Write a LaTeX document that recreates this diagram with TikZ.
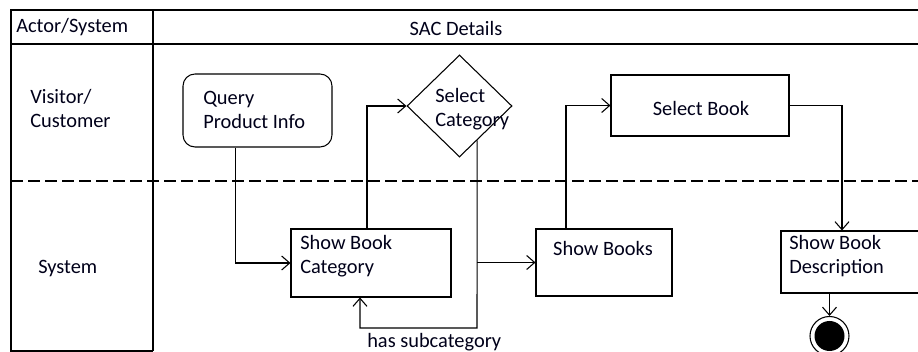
\documentclass[tikz,border=0pt]{standalone}
\usepackage{fontspec}
\setmainfont{Carlito}
\usetikzlibrary{arrows.meta,shapes.geometric,calc}
\begin{document}
\begin{tikzpicture}[x=0.75pt,y=-0.75pt,
  font=\fontsize{15.3}{18}\selectfont,
  ln/.style={line width=0.8pt, draw=black},
  box/.style={ln, rectangle, inner sep=0pt},
  txt/.style={inner sep=0pt, align=left, text=black!90!blue},
  arr/.style={ln, -{Straight Barb[length=6pt,width=10.5pt]}},
]
\useasboundingbox (0,0) rectangle (918,352);
% frame
\draw[ln] (918,10) -- (11,10) -- (11,351) -- (153,351);
\draw[ln] (11,44) -- (918,44);
\draw[ln] (153,10) -- (153,351);
\draw[line width=0.8pt, dash pattern=on 9pt off 3.75pt] (11,181) -- (918,181);
% header / lane texts
\node[txt, anchor=west] (hactor) at (16,27.5) {Actor/System};
\node[txt] (hsac) at (456,28.5) {SAC Details};
\node[txt, anchor=west] (lvis) at (30,108) {Visitor/\\Customer};
\node[txt, anchor=west] (lsys) at (38,268.5) {System};
% activity nodes
\node[box, rounded corners=9pt, minimum width=111.75pt, minimum height=54.75pt] (query) at (257.5,110.5) {};
\node[box, diamond, minimum width=78.75pt, minimum height=76.5pt] (selcat) at (459.5,106) {};
\node[box, minimum width=120pt, minimum height=51pt] (sbc) at (371,263) {};
\node[box, minimum width=102pt, minimum height=50.25pt] (sb) at (604,262.5) {};
\node[box, minimum width=133.5pt, minimum height=45.75pt] (selb) at (700,105.5) {};
\node[box, minimum width=108pt, minimum height=46.5pt] (desc) at (853,262) {};
\node[ln, circle, minimum size=29.25pt, inner sep=0pt,
  path picture={\fill[black] (path picture bounding box.center) circle[radius=11.25pt];}] (final) at (829.5,336) {};
% texts
\node[txt, anchor=west] (tquery) at (203,110) {Query\\Product Info};
\node[txt, anchor=west] (tselcat) at (435,109) {Select\\Category};
\node[txt, anchor=west] (tsbc) at (300,256.5) {Show Book\\Category};
\node[txt] (tsb) at (603,248.5) {Show Books};
\node[txt] (tselb) at (701,108.5) {Select Book};
\node[txt, anchor=west] (tdesc) at (789,256.5) {Show Book\\Description};
\node[txt, anchor=west] (thas) at (367,342) {has subcategory};
% connectors
\coordinate (dcorner) at ($(selcat.east)!0.667!(selcat.south)$);
\coordinate (loop) at (477,328);
\draw[arr] ($(query.south)+(-22,0)$) |- (sbc.west);
\draw[arr] ($(sbc.north)+(-4,0)$) |- (selcat.west);
\draw[arr] (dcorner) -- (loop) -| ($(sbc.south)+(-11,0)$);
\draw[arr] (dcorner |- sb.west) -- (sb.west);
\draw[arr] ($(sb.north)+(-38,0)$) |- (selb.west);
\draw[arr] (selb.east) -| ($(desc.north)+(-11,0)$);
\draw[arr] (desc.south -| final.north) -- (final.north);
\end{tikzpicture}
\end{document}
